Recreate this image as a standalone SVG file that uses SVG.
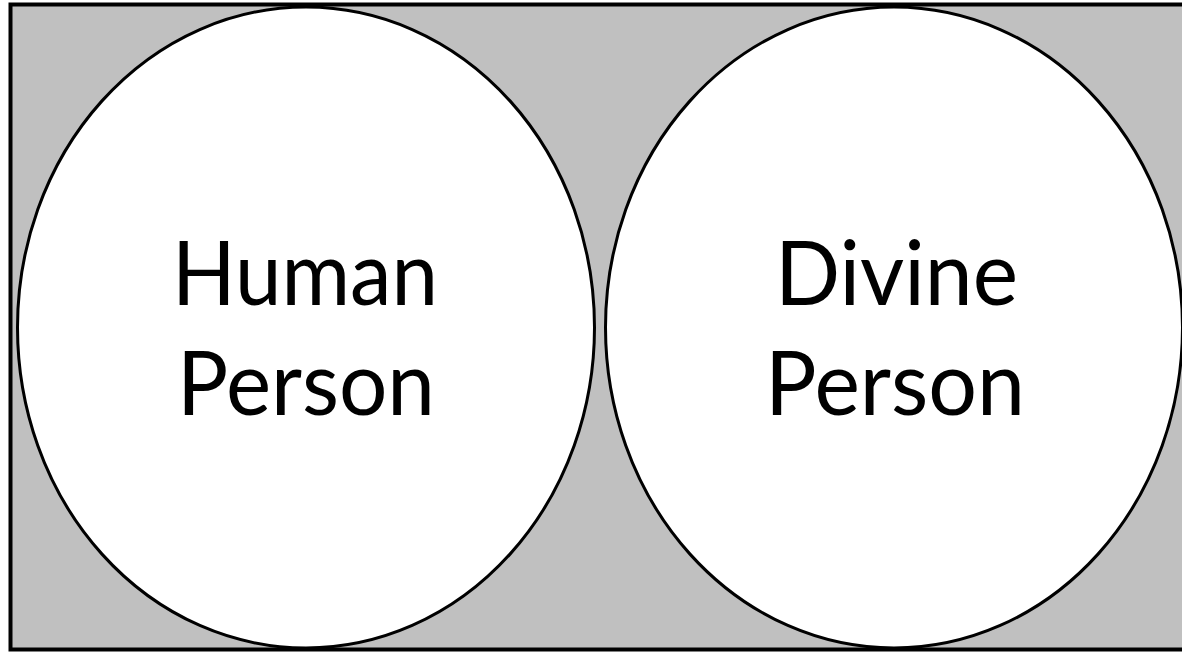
<svg xmlns="http://www.w3.org/2000/svg" width="1182" height="653" viewBox="0 0 1182 653">
<style>
.node ellipse{fill:#fff;stroke:#000;stroke-width:3}
.lbl{font-family:Lato,"Open Sans","Liberation Sans",sans-serif;font-size:90px;fill:#000;text-anchor:middle}
</style>
<rect x="0" y="0" width="1182" height="653" fill="#fff"/>
<rect id="frame" x="10.5" y="4.5" width="1180" height="645" fill="#c0c0c0" stroke="#000" stroke-width="4"/>
<g id="human" class="node">
<ellipse cx="306" cy="327.5" rx="288.5" ry="320.5"/>
<text class="lbl" x="305" y="305" textLength="266" lengthAdjust="spacingAndGlyphs">Human</text>
<text class="lbl" x="306" y="415" textLength="258" lengthAdjust="spacingAndGlyphs">Person</text>
</g>
<g id="divine" class="node">
<ellipse cx="894" cy="327.5" rx="288.5" ry="320.5"/>
<text class="lbl" x="896.5" y="305" textLength="243" lengthAdjust="spacingAndGlyphs">Divine</text>
<text class="lbl" x="895" y="415" textLength="260" lengthAdjust="spacingAndGlyphs">Person</text>
</g>
<g id="connectors"></g>
</svg>
